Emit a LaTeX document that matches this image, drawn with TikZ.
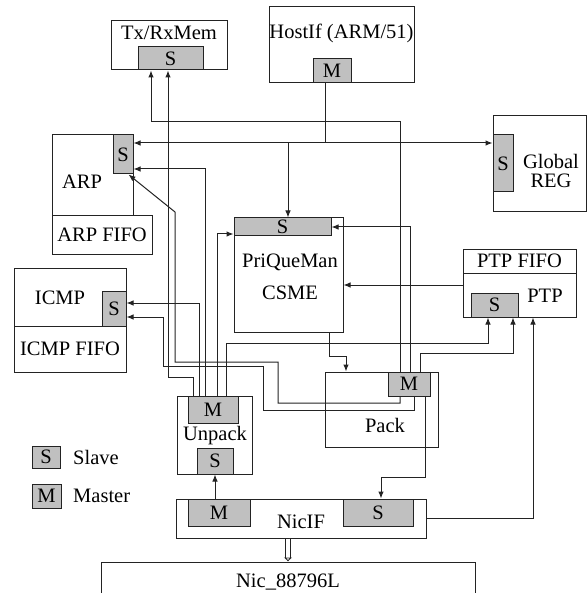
\documentclass[tikz,border=0pt]{standalone}
\usepackage{fontspec}
\setmainfont{Liberation Serif}
\usetikzlibrary{fit,arrows.meta}

\definecolor{cgray}{RGB}{192,192,192}
\definecolor{cline}{RGB}{35,35,35}
\tikzset{
  blk/.style={draw=cline, line width=1pt, inner sep=0pt, font=\fontsize{20.5}{22}\selectfont},
  port/.style={blk, fill=cgray, label={[lbl]center:#1}},
  lbl/.style={inner sep=0pt, font=\fontsize{20.5}{22}\selectfont},
  wire/.style={draw=cline, line width=1pt},
  arr/.style={wire, -{Latex[length=7pt,width=5.5pt]}},
  dbl/.style={draw=cline, line width=0.8pt, double, double distance=3.5pt, -{Latex[open,length=4pt,width=9pt]}},
}

\begin{document}
\begin{tikzpicture}[x=1pt,y=-1pt]
    \useasboundingbox (0,0) rectangle (587,593);
    % memories and host
    \node[blk, fit={(111,21)(227,70)}] (txmem) {};
    \node[port=S, fit={(138,47)(203,70)}] (txmem-s) {};
    \node[lbl] (txmem-t) at (169,33) {Tx/RxMem};
    \node[blk, fit={(269,7)(414,83)}] (hostif) {};
    \node[port=M, fit={(313,59)(351,83)}] (hostif-m) {};
    \node[lbl] (hostif-t) at (341.5,33) {HostIf (ARM/51)};
    \node[blk, fit={(493,116)(586,212)}] (global) {};
    \node[port=S, fit={(493,135)(513,192)}] (global-s) {};
    \node[lbl, align=center] (global-t) at (551,171) {Global\\[-3pt]REG};
    % protocol blocks
    \node[blk, fit={(52,135)(133,216)}] (arp) {};
    \node[port=S, fit={(113,135)(133,174)}] (arp-s) {};
    \node[lbl] (arp-t) at (82,182) {ARP};
    \node[blk, fit={(52,216)(152,254)}, label={[lbl]center:ARP FIFO}] (arpfifo) {};
    \node[blk, fit={(14,268)(126,326)}] (icmp) {};
    \node[port=S, fit={(102,291)(126,326)}] (icmp-s) {};
    \node[lbl] (icmp-t) at (60,298) {ICMP};
    \node[blk, fit={(14,326)(126,372)}, label={[lbl]center:ICMP FIFO}] (icmpfifo) {};
    \node[blk, fit={(234,218)(343,332)}] (pqm) {};
    \node[port=S, fit={(234,218)(331,236)}] (pqm-s) {};
    \node[lbl] (pqm-t1) at (290,262) {PriQueMan};
    \node[lbl] (pqm-t2) at (290,293) {CSME};
    \node[blk, fit={(463,249)(576,273)}, label={[lbl]center:PTP FIFO}] (ptpfifo) {};
    \node[blk, fit={(463,273)(576,317)}] (ptp) {};
    \node[port=S, fit={(471,293)(518,317)}] (ptp-s) {};
    \node[lbl] (ptp-t) at (545,296) {PTP};
    % pack / unpack
    \node[blk, fit={(325,372)(438,447)}] (pack) {};
    \node[port=M, fit={(388,372)(430,396)}] (pack-m) {};
    \node[lbl] (pack-t) at (385,425) {Pack};
    \node[blk, fit={(177,396)(252,474)}] (unpack) {};
    \node[port=M, fit={(188,396)(238,423)}] (unpack-m) {};
    \node[port=S, fit={(197,448)(233,474)}] (unpack-s) {};
    \node[lbl] (unpack-t) at (215,436) {Unpack};
    % nic side
    \node[blk, fit={(176,499)(426,538)}] (nicif) {};
    \node[port=M, fit={(188,499)(250,526)}] (nicif-m) {};
    \node[port=S, fit={(343,499)(413,526)}] (nicif-s) {};
    \node[lbl] (nicif-t) at (301,522) {NicIF};
    \node[blk, fit={(101,562)(475,594)}] (nic) {};
    \node[lbl] (nic-t) at (288,582) {Nic\_88796L};
    % legend
    \node[port=S, fit={(32,446)(60,468)}] (leg-s) {};
    \node[lbl, anchor=west] (leg-st) at (73,457) {Slave};
    \node[port=M, fit={(32,484)(61,508)}] (leg-m) {};
    \node[lbl, anchor=west] (leg-mt) at (73,496) {Master};
    % host bus
    \coordinate (bus) at (325,143);
    \coordinate (tap) at (288,143);
    \draw[wire] ([xshift=-7pt]hostif-m.south) -- (bus);
    \draw[arr] (bus) -- (arp-s.east |- bus);
    \draw[arr] (bus) -- (global-s.west |- bus);
    \draw[arr] (tap) -- ([xshift=5.5pt]pqm-s.north);
    % pack master
    \draw[arr] ([xshift=-9pt]pack-m.north) |- (151,122) -- ([xshift=-19.5pt]txmem-s.south);
    \draw[arr] ([xshift=1pt]pack-m.north) |- (pqm-s.east);
    \draw[arr] ([xshift=11pt]pack-m.north) |- (513,353) -- ([xshift=18.5pt]ptp-s.south);
    \draw[arr] ([xshift=16pt]pack-m.south) |- (381,477) -- ([xshift=3pt]nicif-s.north);
    \draw[arr] ([xshift=-9pt]pack-m.south) |- (278,403) |- (175,362) -- (175,212) -- ([xshift=-5pt]arp-s.south east);
    \draw[arr] ([xshift=5pt]pack-m.south) |- (263,410) |- (163,366) |- ([yshift=-8.5pt]icmp-s.east);
    % unpack master
    \draw[arr] ([xshift=-20pt]unpack-m.north) |- (168,377) -- ([xshift=-2.5pt]txmem-s.south);
    \draw[arr] ([xshift=-14pt]unpack-m.north) |- ([yshift=5.5pt]icmp-s.east);
    \draw[arr] ([xshift=-8pt]unpack-m.north) |- ([yshift=-14.5pt]arp-s.east);
    \draw[arr] ([xshift=4pt]unpack-m.north) |- ([yshift=-7pt]pqm-s.west);
    \draw[arr] ([xshift=13pt]unpack-m.north) |- (488,343) -- ([xshift=-6.5pt]ptp-s.south);
    % others
    \draw[arr] ([xshift=40.5pt]pqm.south) |- (346,356) -- ([xshift=-35.5pt]pack.north);
    \draw[arr] ([yshift=10pt]ptp.west) -- ([yshift=-10pt]pqm.east);
    \draw[arr] (nicif.east) -| ([xshift=13.5pt]ptp.south);
    \draw[arr] (nicif-m.north -| unpack-s.south) -- (unpack-s.south);
    \draw[dbl] ([xshift=-13pt]nicif.south) -- (nic.north);
\end{tikzpicture}
\end{document}
